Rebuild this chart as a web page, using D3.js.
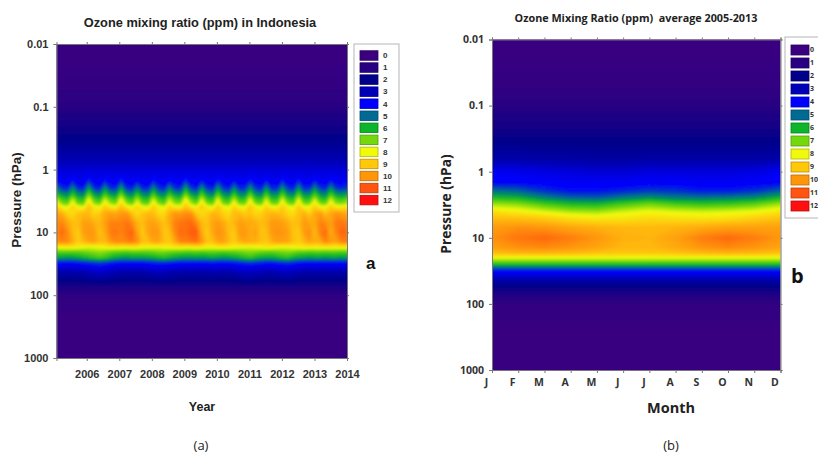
<!DOCTYPE html>
<html>
<head>
<meta charset="UTF-8" />
<title>Ozone mixing ratio</title>
<script src="https://d3js.org/d3.v7.min.js"></script>
<style>
  html, body { margin: 0; padding: 0; background: #fff; overflow: hidden; }
  svg { display: block; }
  text { white-space: pre; }
</style>
</head>
<body>
<div id="main"></div>
<script type="text/javascript">

const legendValues = [0, 1, 2, 3, 4, 5, 6, 7, 8, 9, 10, 11, 12]
const legendColors = ['#3b0080', '#2a0082', '#00008a', '#0000b8', '#0000ff', '#006a94', '#0cb52a',
  '#74d80e', '#f2fa0c', '#ffc80a', '#ff960a', '#ff5510', '#ff0f0f']

const pressureTicks = [0.01, 0.1, 1, 10, 100, 1000]
const yearTicks = [2006, 2007, 2008, 2009, 2010, 2011, 2012, 2013, 2014]
const monthLabels = ['J', 'F', 'M', 'A', 'M', 'J', 'J', 'A', 'S', 'O', 'N', 'D']

// panel a: one column every two months, 2005 to 2014
const yearStart = 2005.07
const yearEnd = 2014

// levels that look the same across the whole record
const levelsTopA = [0.01, 0.03, 0.1, 0.3, 0.6, 1]
const profileTopA = [0.1, 0.4, 1.0, 1.9, 2.7, 3.4]
const levelsBottomA = [70, 100, 200, 1000]
const profileBottomA = [1.5, 0.8, 0.3, 0.1]

const levelsBandA = [1.5, 2, 2.5, 3, 3.5, 4, 5, 7, 10, 14, 17, 20, 25, 30, 40, 50]
const bandA = [
  [4.1,3.9,3.8, 4.2,3.8,3.8, 4.4,3.9,3.8, 4.2,3.9,3.8, 4.4,3.9,3.8, 4.1,3.8,3.8, 4.2,3.9,3.8, 4.1,3.9,3.8, 4.4,3.9,3.8, 4.2,3.9,3.8, 4.3,3.9,3.8, 4.1,3.8,3.8, 4.3,3.9,3.8, 4.2,3.8,3.8, 4.3,3.9,3.8, 4.3,3.8,3.8, 4.2,3.9,3.8, 4.2,3.9,3.8, 4.0],
  [5.3,4.5,4.3, 5.4,4.4,4.3, 5.8,4.5,4.3, 5.5,4.5,4.4, 5.8,4.5,4.3, 5.3,4.4,4.3, 5.5,4.5,4.3, 5.4,4.5,4.4, 5.8,4.6,4.3, 5.6,4.5,4.3, 5.6,4.5,4.3, 5.4,4.4,4.4, 5.6,4.5,4.3, 5.5,4.4,4.4, 5.6,4.5,4.3, 5.6,4.4,4.4, 5.5,4.5,4.4, 5.5,4.5,4.4, 4.6],
  [6.3,5.6,5.4, 6.4,5.5,5.3, 7.0,5.7,5.4, 6.6,5.7,5.5, 7.0,5.7,5.4, 6.4,5.5,5.3, 6.6,5.6,5.3, 6.5,5.7,5.5, 7.0,5.8,5.4, 6.7,5.6,5.3, 6.8,5.6,5.3, 6.5,5.5,5.4, 6.8,5.6,5.3, 6.6,5.5,5.5, 6.7,5.6,5.3, 6.8,5.5,5.5, 6.6,5.6,5.4, 6.6,5.7,5.5, 5.8],
  [7.5,6.6,6.3, 7.6,6.4,6.3, 8.1,6.7,6.3, 7.7,6.8,6.5, 8.1,6.7,6.3, 7.5,6.4,6.3, 7.7,6.6,6.3, 7.6,6.7,6.5, 8.1,6.9,6.3, 7.8,6.5,6.3, 7.9,6.5,6.3, 7.6,6.4,6.4, 7.9,6.5,6.3, 7.7,6.4,6.4, 7.8,6.5,6.3, 7.9,6.4,6.4, 7.7,6.5,6.3, 7.7,6.7,6.5, 6.9],
  [8.4,7.2,6.9, 8.3,7.0,6.9, 8.7,7.3,7.0, 8.4,7.4,7.1, 8.7,7.4,6.9, 8.2,7.0,6.9, 8.4,7.2,6.8, 8.3,7.3,7.2, 8.7,7.5,7.0, 8.5,7.2,6.9, 8.5,7.1,6.9, 8.3,7.1,7.0, 8.5,7.2,6.9, 8.3,7.1,7.0, 8.4,7.2,6.9, 8.5,7.1,7.1, 8.4,7.2,7.0, 8.4,7.3,7.2, 7.5],
  [8.8,8.3,8.0, 8.8,8.2,8.0, 9.2,8.4,8.1, 8.9,8.5,8.3, 9.2,8.5,8.1, 8.8,8.2,8.0, 8.9,8.3,8.0, 8.8,8.4,8.3, 9.1,8.6,8.2, 9.0,8.3,8.0, 9.0,8.3,8.0, 8.8,8.2,8.2, 9.0,8.4,8.0, 8.8,8.3,8.2, 8.9,8.3,8.0, 9.0,8.2,8.2, 8.9,8.3,8.2, 8.9,8.4,8.4, 8.6],
  [9.8,9.5,8.8, 8.6,9.1,9.3, 9.2,8.7,9.0, 9.6,9.8,9.6, 9.9,10.0,9.2, 8.6,9.0,9.3, 9.2,8.6,8.7, 9.5,10.0,9.9, 10.1,10.1,9.0, 8.6,8.9,9.4, 9.2,8.8,8.6, 9.2,9.3,8.9, 9.1,8.7,8.8, 9.2,9.4,9.3, 9.1,8.7,8.6, 9.1,9.5,8.8, 9.6,9.9,9.1, 9.6,10.0,9.8, 9.6],
  [10.2,10.3,9.7, 9.2,9.2,9.8, 9.8,9.5,9.3, 9.8,10.3,10.3, 10.3,10.5,10.2, 9.4,9.2,9.7, 9.8,9.5,9.1, 9.6,10.3,10.5, 10.6,10.7,10.2, 9.3,9.1,9.7, 9.9,9.6,9.1, 9.3,9.8,9.7, 9.6,9.5,9.2, 9.4,9.9,9.9, 9.8,9.5,9.1, 9.2,9.9,9.7, 9.6,10.3,10.1, 9.8,10.4,10.5, 10.3],
  [10.2,10.7,10.2, 9.3,8.9,9.8, 10.0,9.9,9.1, 9.6,10.4,10.5, 10.3,10.6,10.8, 9.8,8.9,9.7, 10.0,9.9,9.0, 9.2,10.2,10.7, 10.6,10.9,10.9, 9.6,8.9,9.6, 10.1,9.9,9.2, 8.9,9.9,10.0, 9.6,9.8,9.1, 9.2,9.9,10.1, 10.0,9.8,9.1, 8.9,9.8,10.2, 9.2,10.3,10.7, 9.5,10.3,10.8, 10.6],
  [10.0,10.3,10.2, 9.6,8.9,9.3, 9.7,9.8,9.3, 9.3,9.9,10.2, 10.2,10.3,10.5, 10.1,9.2,9.2, 9.7,9.7,9.2, 9.0,9.6,10.3, 10.4,10.5,10.6, 10.0,9.1,9.2, 9.7,9.8,9.3, 8.9,9.4,9.7, 9.6,9.5,9.2, 9.0,9.5,9.8, 9.8,9.7,9.2, 8.9,9.3,9.8, 9.5,9.6,10.3, 9.9,9.8,10.3, 10.4],
  [8.2,8.3,8.4, 8.4,8.3,8.1, 7.9,8.0,8.1, 8.2,8.4,8.4, 8.3,8.3,8.4, 8.4,8.2,8.1, 8.1,8.0,8.2, 8.3,8.4,8.4, 8.3,8.4,8.4, 8.4,8.2,8.2, 8.3,8.4,8.3, 8.2,8.1,8.0, 7.9,8.1,8.2, 8.4,8.3,8.1, 8.0,8.0,8.2, 8.3,8.4,8.4, 8.3,8.4,8.4, 8.4,8.3,8.4, 8.4],
  [6.9,6.9,6.9, 6.9,6.9,7.0, 7.1,7.2,7.3, 7.2,7.0,6.9, 6.9,6.8,6.9, 6.9,6.9,6.9, 7.0,7.1,7.1, 7.0,6.9,6.9, 6.8,6.8,6.9, 6.8,6.9,6.9, 6.9,6.8,6.9, 6.9,7.0,7.1, 7.2,7.1,7.0, 6.9,6.9,7.0, 7.1,7.2,7.1, 6.9,6.9,6.8, 6.9,6.9,6.8, 6.9,6.9,6.8, 6.9],
  [5.7,5.7,5.6, 5.7,5.8,6.0, 6.2,6.4,6.6, 6.4,6.1,5.8, 5.7,5.6,5.7, 5.7,5.7,5.8, 5.9,6.1,6.2, 6.0,5.8,5.7, 5.6,5.6,5.7, 5.6,5.7,5.8, 5.7,5.6,5.7, 5.8,6.0,6.2, 6.4,6.1,5.9, 5.8,5.8,6.0, 6.2,6.3,6.0, 5.8,5.7,5.6, 5.7,5.7,5.6, 5.7,5.7,5.6, 5.7],
  [4.2,4.2,4.2, 4.2,4.3,4.4, 4.5,4.6,4.7, 4.6,4.4,4.3, 4.2,4.2,4.2, 4.2,4.2,4.3, 4.4,4.5,4.5, 4.4,4.3,4.2, 4.2,4.2,4.2, 4.2,4.2,4.3, 4.2,4.2,4.2, 4.3,4.4,4.5, 4.6,4.5,4.4, 4.3,4.3,4.4, 4.5,4.6,4.4, 4.3,4.2,4.2, 4.2,4.2,4.2, 4.2,4.2,4.2, 4.2],
  [3.0,3.0,3.0, 3.0,3.1,3.1, 3.2,3.3,3.4, 3.3,3.2,3.1, 3.0,3.0,3.0, 3.0,3.0,3.1, 3.2,3.2,3.2, 3.1,3.1,3.0, 3.0,3.0,3.0, 3.0,3.0,3.1, 3.0,3.0,3.0, 3.1,3.2,3.3, 3.3,3.2,3.1, 3.1,3.1,3.2, 3.2,3.3,3.2, 3.1,3.0,3.0, 3.0,3.0,3.0, 3.0,3.0,3.0, 3.0],
  [2.3,2.3,2.3, 2.3,2.4,2.4, 2.6,2.7,2.8, 2.7,2.5,2.4, 2.3,2.3,2.3, 2.3,2.3,2.4, 2.5,2.6,2.6, 2.5,2.4,2.3, 2.3,2.3,2.3, 2.3,2.3,2.4, 2.3,2.3,2.3, 2.4,2.5,2.7, 2.7,2.6,2.5, 2.4,2.4,2.5, 2.6,2.7,2.5, 2.4,2.3,2.3, 2.3,2.3,2.3, 2.3,2.3,2.3, 2.3]
]

// panel b: monthly climatology, one row per pressure level
const levelsB = [0.01, 0.03, 0.1, 0.3, 0.6, 1, 1.5, 2, 2.5, 3, 4, 5, 7, 10, 14, 17, 20, 25, 30, 40, 50, 70, 100, 200, 1000]
const monthlyB = [
  [0.1,0.1,0.1,0.1,0.1,0.1,0.1,0.1,0.1,0.1,0.1,0.1],
  [0.4,0.4,0.4,0.4,0.4,0.4,0.4,0.4,0.4,0.4,0.4,0.4],
  [1.0,1.0,1.0,1.0,1.0,1.0,1.0,1.0,1.0,1.0,1.0,1.0],
  [1.8,1.8,1.8,1.8,1.8,1.8,1.8,1.8,1.8,1.8,1.8,1.8],
  [2.6,2.6,2.5,2.5,2.4,2.4,2.5,2.5,2.5,2.5,2.5,2.6],
  [3.8,3.7,3.6,3.5,3.4,3.4,3.5,3.5,3.5,3.5,3.6,3.8],
  [4.1,4.1,4.0,3.9,3.9,3.9,4.0,4.0,3.9,3.9,4.0,4.1],
  [5.2,5.0,4.5,4.2,4.2,4.4,4.6,4.5,4.3,4.3,4.5,5.0],
  [6.2,6.0,5.4,5.0,4.9,5.3,5.6,5.3,5.2,5.3,5.5,6.1],
  [7.2,7.0,6.4,6.0,5.9,6.4,6.8,6.4,6.2,6.3,6.6,7.2],
  [8.5,8.2,7.8,7.4,7.3,7.7,8.0,7.8,7.7,7.8,8.0,8.4],
  [9.2,9.1,8.9,8.5,8.3,8.4,8.6,8.5,8.4,8.5,8.8,9.1],
  [9.9,10.1,10.0,9.7,9.5,9.3,9.3,9.4,9.6,9.8,9.8,9.8],
  [10.1,10.5,10.7,10.4,10.0,9.5,9.4,9.8,10.4,10.7,10.4,10.0],
  [9.8,10.1,10.2,10.0,9.7,9.3,9.3,9.6,10.0,10.2,10.0,9.7],
  [9.2,9.4,9.4,9.3,9.1,9.0,9.0,9.1,9.3,9.4,9.3,9.1],
  [8.0,8.0,8.0,8.0,8.0,8.0,8.0,8.0,8.0,8.0,8.0,8.0],
  [6.2,6.2,6.2,6.2,6.2,6.2,6.2,6.2,6.2,6.2,6.2,6.2],
  [4.4,4.4,4.4,4.4,4.4,4.4,4.4,4.4,4.4,4.4,4.4,4.4],
  [3.1,3.1,3.1,3.1,3.1,3.1,3.1,3.1,3.1,3.1,3.1,3.1],
  [2.2,2.2,2.2,2.2,2.2,2.2,2.2,2.2,2.2,2.2,2.2,2.2],
  [1.3,1.3,1.3,1.3,1.3,1.3,1.3,1.3,1.3,1.3,1.3,1.3],
  [0.7,0.7,0.7,0.7,0.7,0.7,0.7,0.7,0.7,0.7,0.7,0.7],
  [0.3,0.3,0.3,0.3,0.3,0.3,0.3,0.3,0.3,0.3,0.3,0.3],
  [0.1,0.1,0.1,0.1,0.1,0.1,0.1,0.1,0.1,0.1,0.1,0.1]
]

const colsA = bandA[0].length
const levelsA = levelsTopA.concat(levelsBandA, levelsBottomA)
const valuesA = profileTopA.map(v => new Array(colsA).fill(v))
  .concat(bandA, profileBottomA.map(v => new Array(colsA).fill(v)))

const colourScale = d3.scaleLinear().domain(legendValues).range(legendColors)

const svg = d3.select('#main').append('svg')
  .attr('width', 818)
  .attr('height', 455)

const defs = svg.append('defs')
defs.append('filter').attr('id', 'soft')
  .attr('x', -0.1).attr('y', -0.1).attr('width', 1.2).attr('height', 1.2)
  .append('feGaussianBlur').attr('stdDeviation', 1.1)

const sans = '"Liberation Sans", Arial, sans-serif'
const open = '"Open Sans", sans-serif'

function label(text, x, y, size, family, weight, rotate) {
  const t = svg.append('text')
    .attr('text-anchor', 'middle')
    .attr('font-family', family)
    .attr('font-size', size)
    .attr('font-weight', weight)
    .attr('fill', '#222')
    .text(text)
  if (rotate) t.attr('transform', `translate(${x},${y}) rotate(-90)`)
  else t.attr('x', x).attr('y', y)
  return t
}

function heatmap(id, box, levels, values, colX, y) {
  const rows = levels.length
  const cols = values[0].length
  const rowY = d3.scaleLinear().domain(d3.range(rows)).range(levels.map(y))

  // contours come back in grid units, cell centres sit at +0.5
  const toPixels = d3.geoTransform({
    point(px, py) { this.stream.point(colX(px - 0.5), rowY(py - 0.5)) }
  })
  const path = d3.geoPath(toPixels)

  const contours = d3.contours()
    .size([cols, rows])
    .smooth(true)
    .thresholds(d3.range(0, 12, 0.1))(values.flat())

  defs.append('clipPath').attr('id', id)
    .append('rect')
    .attr('x', box.left).attr('y', box.top)
    .attr('width', box.right - box.left).attr('height', box.bottom - box.top)

  const g = svg.append('g').attr('clip-path', `url(#${id})`)
    .append('g').attr('filter', 'url(#soft)')

  g.append('rect')
    .attr('x', box.left - 10).attr('y', box.top - 10)
    .attr('width', box.right - box.left + 20).attr('height', box.bottom - box.top + 20)
    .attr('fill', colourScale(0))

  g.selectAll('path').data(contours).enter().append('path')
    .attr('d', path)
    .attr('fill', d => colourScale(d.value + 0.05))
}

function frame(box, x, y, xAxis, family, size, weight, dx) {
  const yAxis = d3.axisLeft(y)
    .tickValues(pressureTicks)
    .tickFormat(d => String(d))
    .tickSize(3)
    .tickPadding(5)
  const groups = [
    svg.append('g').attr('transform', `translate(${box.left},0)`).call(yAxis),
    svg.append('g').attr('transform', `translate(${box.right},0)`)
      .call(d3.axisRight(y).tickValues(pressureTicks).tickSize(2).tickFormat('')),
    svg.append('g').attr('transform', `translate(0,${box.top})`)
      .call(xAxis(d3.axisTop).tickSize(2).tickFormat('')),
    svg.append('g').attr('transform', `translate(0,${box.bottom})`).call(xAxis(d3.axisBottom).tickSize(3))
  ]
  groups.forEach(g => {
    g.selectAll('path,line').attr('stroke', '#777')
    g.selectAll('text')
      .attr('font-family', family)
      .attr('font-size', size)
      .attr('font-weight', weight)
      .attr('fill', '#333')
  })
  groups[3].selectAll('text').attr('dx', dx).attr('dy', dx ? '0.92em' : '1.25em')
}

function legend(left, top, width, height, swatchX, firstY, step, swatchH, textX, size, family) {
  svg.append('rect')
    .attr('x', left).attr('y', top)
    .attr('width', width).attr('height', height)
    .attr('fill', '#fff').attr('stroke', '#b5b5b5')
  const items = svg.selectAll(null).data(legendValues).enter().append('g')
    .attr('transform', (d, i) => `translate(0,${firstY + step * i})`)
  items.append('rect')
    .attr('x', swatchX).attr('y', -swatchH / 2)
    .attr('width', 18).attr('height', swatchH)
    .attr('fill', d => colourScale(d))
    .attr('stroke', d => d3.color(colourScale(d)).darker(0.9))
    .attr('stroke-width', 0.8)
  items.append('text')
    .attr('x', textX).attr('dy', '0.35em')
    .attr('font-family', family)
    .attr('font-size', size)
    .attr('font-weight', 'bold')
    .attr('fill', '#333')
    .text(d => d)
}

// panel a
const boxA = { left: 56.5, right: 347, top: 44, bottom: 358 }
const xA = d3.scaleLinear().domain([yearStart, yearEnd]).range([boxA.left, boxA.right])
const yA = d3.scaleLog().domain([0.01, 1000]).range([boxA.top, boxA.bottom])
const colA = d3.scaleLinear().domain([0, colsA - 1]).range([boxA.left, boxA.right])

heatmap('clipA', boxA, levelsA, valuesA, colA, yA)
frame(boxA, xA, yA,
  axis => axis(xA).tickValues(yearTicks).tickFormat(d3.format('d')),
  sans, 11, 'bold', 0)
legend(354, 44, 45, 168, 360, 55.5, 12.05, 9.5, 383, 8, sans)

label('Ozone mixing ratio (ppm) in Indonesia', 200, 27, 12.8, sans, 'bold')
label('Pressure (hPa)', 21, 200, 13.5, sans, 'bold', true)
label('Year', 202, 411, 12.5, sans, 'bold')
svg.append('text').attr('x', 366).attr('y', 269)
  .attr('font-family', sans).attr('font-size', 17).attr('font-weight', 'bold').attr('fill', '#111').text('a')
label('(a)', 201, 450, 13, open, 'normal')

// panel b
const boxB = { left: 492, right: 780.5, top: 39.5, bottom: 370 }
const xB = d3.scaleLinear().domain([0, monthLabels.length - 1]).range([boxB.left, boxB.right])
const yB = d3.scaleLog().domain([0.01, 1000]).range([boxB.top, boxB.bottom])

heatmap('clipB', boxB, levelsB, monthlyB, xB, yB)
frame(boxB, xB, yB,
  axis => axis(xB).tickValues(d3.range(monthLabels.length)).tickFormat(i => monthLabels[i]),
  open, 10.5, 'bold', -6)
legend(785, 37, 40, 181, 791, 50, 13, 10, 810, 7, open)

label('Ozone Mixing Ratio (ppm)  average 2005-2013', 636, 22, 10.8, open, 'bold')
label('Pressure (hPa)', 451, 204, 13.8, open, 'bold', true)
label('Month', 671, 413, 14.5, open, 'bold')
svg.append('text').attr('x', 791).attr('y', 283)
  .attr('font-family', open).attr('font-size', 20).attr('font-weight', 'bold').attr('fill', '#111').text('b')
label('(b)', 671, 450, 13, open, 'normal')

</script>
</body>
</html>
